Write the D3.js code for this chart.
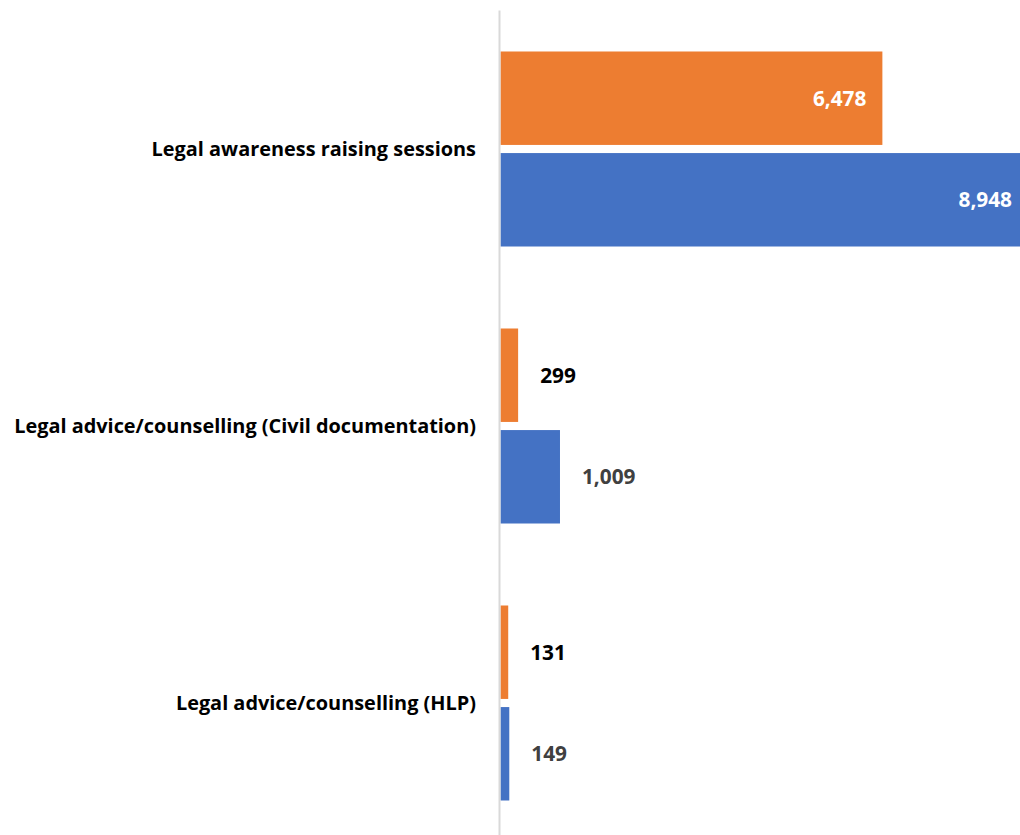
<!DOCTYPE html>
<html>
<head>
<meta charset="utf-8">
<script src="https://cdn.jsdelivr.net/npm/d3@7/dist/d3.min.js"></script>
<style>
  body { margin: 0; background: #fff; }
  svg { display: block; font-family: "Open Sans", "Noto Sans", sans-serif; }
</style>
</head>
<body>
<div id="chart"></div>
<script>
const categories = [
  "Legal awareness raising sessions",
  "Legal advice/counselling (Civil documentation)",
  "Legal advice/counselling (HLP)",
];
const seriesNames = ["first", "second"];
const firstValues = [6478, 299, 131];
const secondValues = [8948, 1009, 149];

const seriesColors = { first: "#ED7D31", second: "#4472C4" };
const outsideLabelColors = { first: "#000000", second: "#404040" };

const width = 1020;
const height = 835;

const data = categories.map((c, i) => ({
  category: c,
  values: [
    { key: "first", value: firstValues[i] },
    { key: "second", value: secondValues[i] },
  ],
}));

const svg = d3
  .select("#chart")
  .append("svg")
  .attr("width", width)
  .attr("height", height);

const xScale = d3.scaleLinear().domain([0, 10000]).range([500.5, 1090]);

const yScale = d3
  .scaleBand()
  .domain(categories)
  .range([10.5, 841.5])
  .paddingInner(0.296)
  .paddingOuter(0.148);

const ySub = d3
  .scaleBand()
  .domain(seriesNames)
  .range([0, yScale.bandwidth()])
  .paddingInner(0.08);

// category labels
svg
  .append("g")
  .selectAll("text")
  .data(categories)
  .join("text")
  .attr("x", 476)
  .attr("y", (d) => yScale(d) + yScale.bandwidth() / 2)
  .attr("dy", "0.36em")
  .attr("text-anchor", "end")
  .attr("font-size", 19.9)
  .attr("font-weight", 700)
  .attr("fill", "#000")
  .text((d) => d);

const groups = svg
  .append("g")
  .selectAll("g")
  .data(data)
  .join("g")
  .attr("transform", (d) => `translate(0,${yScale(d.category)})`);

groups
  .selectAll("rect")
  .data((d) => d.values)
  .join("rect")
  .attr("x", xScale(0))
  .attr("y", (d) => ySub(d.key))
  .attr("width", (d) => xScale(d.value) - xScale(0))
  .attr("height", ySub.bandwidth())
  .attr("fill", (d) => seriesColors[d.key]);

// value labels: inside the bar end when it is wide enough, else just outside
const fmt = d3.format(",");
groups
  .selectAll("text")
  .data((d) => d.values)
  .join("text")
  .attr("y", (d) => ySub(d.key) + ySub.bandwidth() / 2)
  .attr("dy", "0.36em")
  .attr("font-size", 20.8)
  .attr("font-weight", 700)
  .each(function (d) {
    const inside = d.value > 3000;
    const end = xScale(d.value);
    d3.select(this)
      .attr("x", inside ? Math.min(end - 16, width - 8) : end + 22)
      .attr("text-anchor", inside ? "end" : "start")
      .attr("fill", inside ? "#ffffff" : outsideLabelColors[d.key]);
  })
  .text((d) => fmt(d.value));

// vertical axis line
svg
  .append("line")
  .attr("x1", 499.5)
  .attr("x2", 499.5)
  .attr("y1", 10.5)
  .attr("y2", height)
  .attr("stroke", "#d9d9d9")
  .attr("stroke-width", 2);
</script>
</body>
</html>
